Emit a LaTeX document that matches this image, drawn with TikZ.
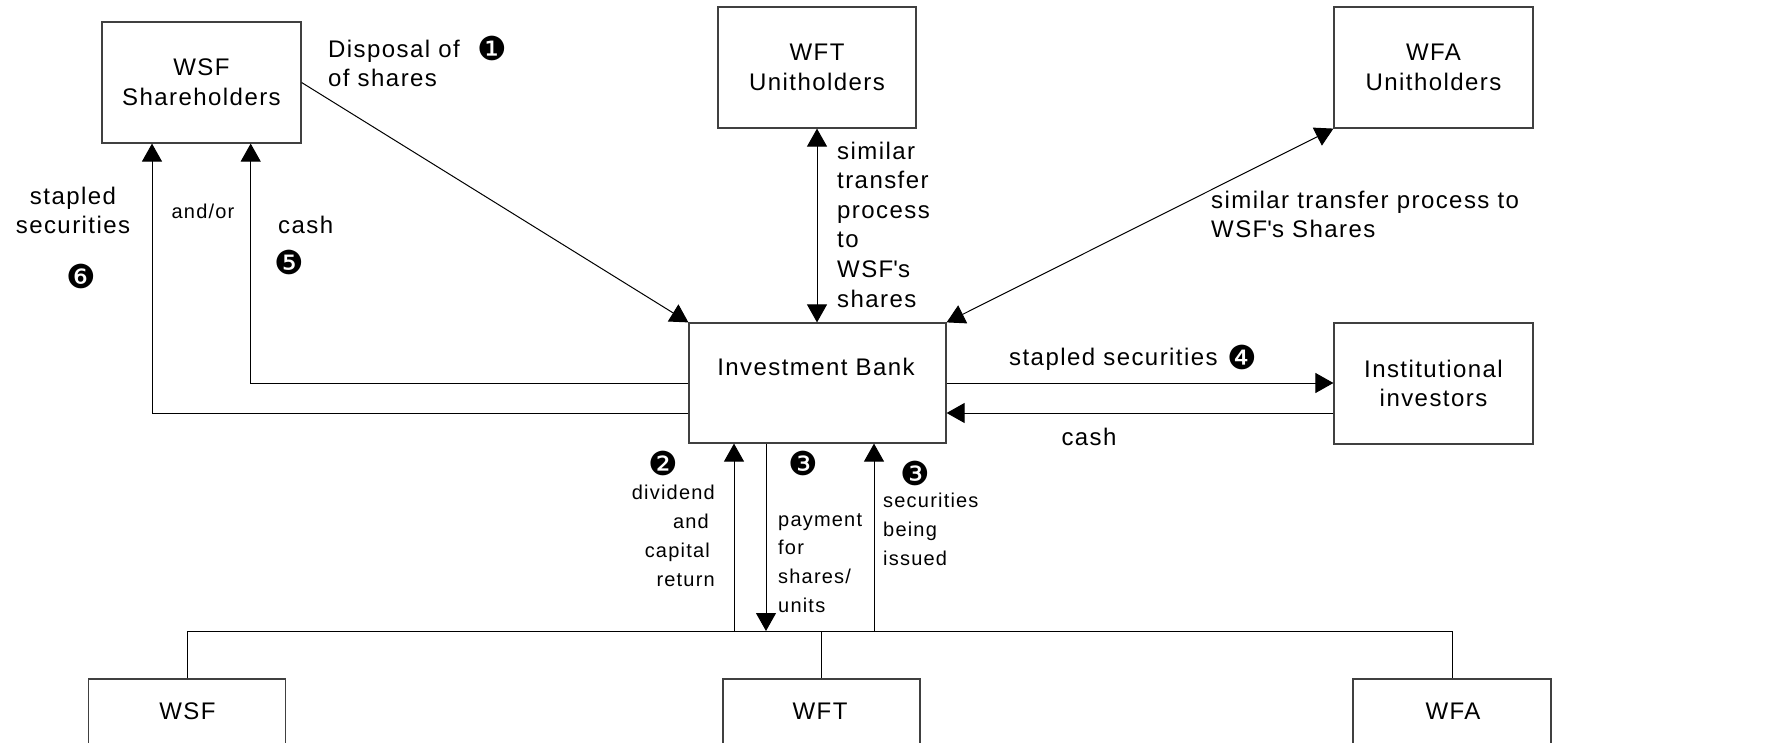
\documentclass[tikz,border=0pt]{standalone}
\usepackage{fontspec}
\setmainfont{Liberation Sans}[LetterSpace=6]
\newfontfamily\dingfont{DejaVu Sans}
\usetikzlibrary{arrows.meta}
\newcommand\mainsz{\fontsize{24}{29.6}\selectfont}
\newcommand\smallsz{\fontsize{20}{28.8}\selectfont}
\newcommand\cn[1]{{\dingfont\fontsize{33}{33}\selectfont #1}}
\newcommand\sq{\textquotesingle}
\begin{document}
\begin{tikzpicture}[x=1pt,y=-1pt,
  box/.style={draw=black!75, line width=1.2pt, inner sep=0pt, align=center, font=\mainsz},
  conn/.style={line width=1pt, -{Triangle[width=20pt,length=18pt]}},
  conntwo/.style={line width=1pt, {Triangle[width=20pt,length=18pt]}-{Triangle[width=20pt,length=18pt]}},
  plain/.style={line width=1pt},
  lbl/.style={inner sep=0pt, font=\mainsz},
  slbl/.style={inner sep=0pt, font=\smallsz},
  num/.style={inner sep=0pt}
]
\useasboundingbox (0,0) rectangle (1782,743);
\clip (0,0) rectangle (1782,743);

% boxes
\node[box, minimum width=199pt, minimum height=121pt] (wsfsh) at (201.5,82.5) {WSF\\Shareholders};
\node[box, minimum width=198pt, minimum height=121pt] (wfth) at (817,67.5) {WFT\\Unitholders};
\node[box, minimum width=199pt, minimum height=121pt] (wfah) at (1433.5,67.5) {WFA\\Unitholders};
\node[box, minimum width=257pt, minimum height=120pt] (ib) at (817.5,383) {};
\node[lbl, anchor=base] (ibtxt) at (816,375.5) {Investment Bank};
\node[box, minimum width=199pt, minimum height=121pt] (inst) at (1433.5,383.5) {Institutional\\investors};

\node[box, minimum width=197pt, minimum height=130pt] (wsf) at (187.3,744) {};
\node[box, minimum width=197pt, minimum height=130pt] (wft) at (821.4,744) {};
\node[box, minimum width=198pt, minimum height=130pt] (wfa) at (1452,744) {};
\node[lbl] (wsftxt) at (187.5,711) {WSF};
\node[lbl] (wfttxt) at (820,711) {WFT};
\node[lbl] (wfatxt) at (1453,711) {WFA};

% coordinates
\coordinate (busy) at (0,631);
\coordinate (yb) at (0,413);
\coordinate (cashx) at (250.7,0);
\coordinate (stx) at (152,0);
\coordinate (d1) at (734,631);
\coordinate (d2) at (766,631);
\coordinate (d3) at (874,631);

% bus
\draw[plain] (wsf.north) -- (wsf.north |- busy) -- (wfa.north |- busy) -- (wfa.north);
\draw[plain] (wft.north) -- (wft.north |- busy);

% vertical arrows to/from investment bank
\draw[conn] (d1) -- (d1 |- ib.south);
\draw[conn] (d2 |- ib.south) -- (d2);
\draw[conn] (d3) -- (d3 |- ib.south);

% top connectors
\draw[conn] (wsfsh.east) -- (ib.north west);
\draw[conntwo] (wfth.south) -- (wfth.south |- ib.north);
\draw[conntwo] (ib.north east) -- (wfah.south west);

% institutional investors
\draw[conn] (ib.east) -- (ib.east -| inst.west);
\draw[conn] (yb -| inst.west) -- (yb -| ib.east);

% back to WSF shareholders
\draw[conn] (ib.west) -| (wsfsh.south -| cashx);
\draw[conn] (yb -| ib.west) -| (wsfsh.south -| stx);

% labels
\node[lbl, align=left, anchor=north west] (disp) at (328,39.5) {Disposal of\\of shares};
\node[num] (n1) at (492,48) {\cn{❶}};
\node[lbl, align=center, anchor=north] (stap) at (73,186.5) {stapled\\securities};
\node[num] (n6) at (81,276) {\cn{❻}};
\node[slbl] (andor) at (203,211) {and/or};
\node[lbl, anchor=base west] (cash1) at (278,233.5) {cash};
\node[num] (n5) at (289,262) {\cn{❺}};
\node[lbl, align=left, anchor=north west] (simwft) at (837,141.5) {similar\\transfer\\process\\to\\WSF\sq s\\shares};
\node[lbl, align=left, anchor=north west] (simwfa) at (1211,190.5) {similar transfer process to\\WSF\sq s Shares};
\node[lbl, anchor=base west] (stap4) at (1009,365.5) {stapled securities};
\node[num] (n4) at (1242,357) {\cn{❹}};
\node[lbl, anchor=base] (cash2) at (1089,445.5) {cash};

\node[num] (n2) at (663,463) {\cn{❷}};
\node[slbl, align=right, anchor=north east] (divd) at (715,485) {dividend\\and\kern6pt\\capital\kern5pt\\return};
\node[num] (n3a) at (803,463) {\cn{❸}};
\node[slbl, align=left, anchor=north west] (pay) at (778,513) {payment\\for\\shares/\\units};
\node[num] (n3b) at (915,473) {\cn{❸}};
\node[slbl, align=left, anchor=north west] (secs) at (883,493) {securities\\being\\issued};
\end{tikzpicture}
\end{document}
